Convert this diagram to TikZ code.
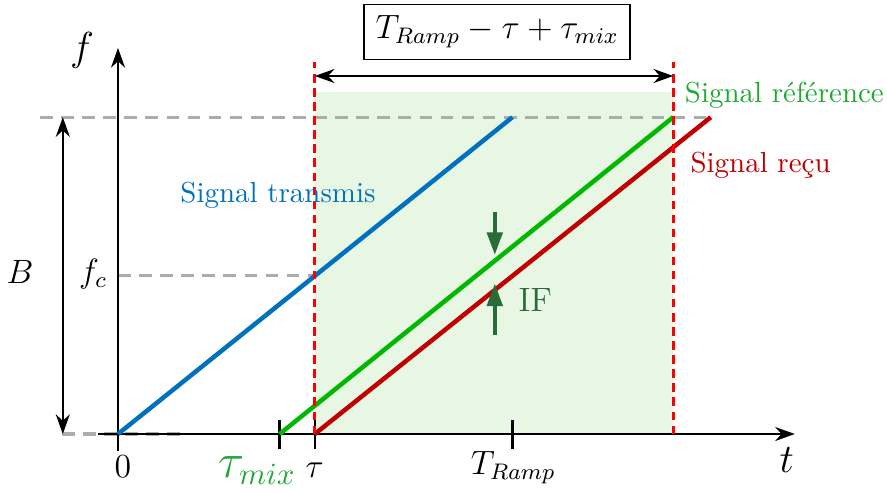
\documentclass[tikz,border=0pt]{standalone}
\usepackage{amsmath,amssymb}
\usepackage{xcolor}
\usetikzlibrary{calc, positioning, arrows.meta}

\definecolor{txblue}{RGB}{0,114,189}
\definecolor{refgreen}{RGB}{0,184,0}
\definecolor{reflabel}{RGB}{34,168,52}
\definecolor{rxred}{RGB}{192,0,0}
\definecolor{ifgreen}{RGB}{42,108,56}
\definecolor{zone}{RGB}{232,246,228}

\begin{document}
\begin{tikzpicture}[
  axe/.style={line width=0.7pt, -{Stealth[length=7pt,width=5pt]}},
  span/.style={line width=0.7pt, {Stealth[length=7pt,width=5pt]}-{Stealth[length=7pt,width=5pt]}},
  guide/.style={gray!65, line width=1.1pt, dash pattern=on 4.5pt off 3pt},
  marker/.style={red, line width=1pt, dash pattern=on 3pt off 2pt},
  ramp/.style={line width=1.6pt},
  tickmark/.style={line width=0.8pt},
  legend/.style={font=\fontsize{10.3}{12}\selectfont, inner sep=0pt},
  ifarrow/.style={ifgreen, line width=1.3pt, -{Triangle[length=8pt,width=5.5pt]}}]
\useasboundingbox (-1.475,-0.7125) rectangle (9.6125,5.425);

% reperes
\coordinate (O) at (0,0);
\coordinate (tm) at (2.02,0);
\coordinate (tau) at (2.46,0);
\coordinate (Tr) at (4.93,0);
\coordinate (Te) at (6.94,0);
\coordinate (txend) at (4.93,3.96);
\coordinate (refend) at (6.94,3.96);
\coordinate (rxend) at (7.41,3.96);

% zone de battement
\fill[zone] (tau) rectangle (6.94,4.275);

% pointilles
\draw[guide] (-0.975,3.96) -- (rxend);
\draw[guide] (-0.7,0) -- (0.775,0);
\draw[guide] (0,1.98) -- (2.46,1.98);

% axes
\draw[axe] (-0.25,0) -- (8.46,0);
\draw[axe] (0,-0.21) -- (0,4.825);
\node (flbl) at (-0.45,4.8) {\Large $f$};
\node (tlbl) at (8.36,-0.325) {\Large $t$};

% graduations
\foreach \p in {tm, tau, Tr}
  \draw[tickmark] ($(\p)+(0,0.175)$) -- ($(\p)+(0,-0.19)$);
\node (zero) at (0.06,-0.41) {\large $0$};
\node[reflabel] (tmlbl) at (1.74,-0.46) {\fontsize{16}{18}\selectfont $\tau_{mix}$};
\node (taulbl) at (2.46,-0.45) {\large $\tau$};
\node (Trlbl) at (4.94,-0.42) {\large $T_{Ramp}$};

% bande B
\draw[span] (-0.69,0) -- (-0.69,3.96);
\node (Blbl) at (-1.225,2.025) {\large $B$};
\node (fclbl) at (-0.31,2.0) {\large $f_c$};

% rampes
\draw[ramp, txblue] (O) -- (txend);
\draw[ramp, refgreen] (tm) -- (refend);
\draw[ramp, rxred] (tau) -- (rxend);

% marqueurs
\draw[marker] (tau) -- (2.46,4.65);
\draw[marker] (Te) -- (6.94,4.65);
\draw[span] (2.46,4.475) -- (6.94,4.475);
\node[draw, line width=0.6pt, inner xsep=4pt, inner ysep=4pt] (duree) at (4.74,5.025)
  {\fontsize{11.5}{13}\selectfont $T_{Ramp}-\tau+\tau_{mix}$};

% legendes
\node[legend, txblue] (tx) at (2.0,2.99) {Signal transmis};
\node[legend, reflabel, anchor=west] (ref) at (7.08,4.24) {Signal référence};
\node[legend, rxred, anchor=west] (rx) at (7.15,3.36) {Signal reçu};

% IF
\coordinate (ifa) at (4.71,2.775);
\coordinate (ifb) at (4.71,2.24);
\coordinate (ifc) at (4.71,1.24);
\coordinate (ifd) at (4.71,1.88);
\draw[ifarrow] (ifa) -- (ifb);
\draw[ifarrow] (ifc) -- (ifd);
\node[ifgreen, anchor=west, inner sep=0pt] (iflbl) at (5.0,1.675) {\large IF};
\end{tikzpicture}
\end{document}
